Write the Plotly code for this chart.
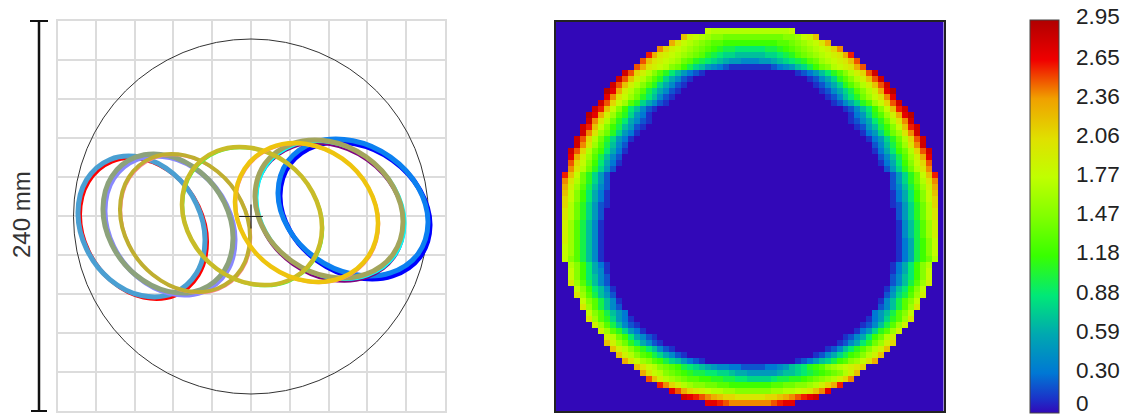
import plotly.graph_objects as go

W, H = 1129, 416

# ---- left panel: scan outline rings, in the panel's own image units ----
PANEL_X = [58, 445]
PANEL_Y = [411, 21]
GRID_START_X = 57
GRID_STEP_X = 38.8
GRID_STEP_Y = 39.0
BOUNDARY_CENTER = (251, 216.5)
BOUNDARY_RADIUS = 177.5
CROSS_POINT = (251, 216.5)

BLUE_X = [430, 420, 392.5, 355, 317.5, 290, 280, 290, 317.5, 355, 392.5, 420]
BLUE_Y = [225.5, 190.1, 160.1, 143.7, 145.1, 164.1, 195.5, 230.9, 260.9, 277.3, 275.9, 256.9]
SKY_X = [428, 418, 390.5, 353, 315.5, 288, 278, 288, 315.5, 353, 390.5, 418]
SKY_Y = [222.5, 187.1, 157.1, 140.7, 142.1, 161.1, 192.5, 227.9, 257.9, 274.3, 272.9, 253.9]

PURPLE_X = [404, 394.1, 367, 330, 293, 265.9, 256, 265.9, 293, 330, 367, 394.1]
PURPLE_Y = [225, 189.4, 159.8, 144.2, 146.8, 166.8, 199, 234.6, 264.2, 279.8, 277.2, 257.2]
CYAN_X = [405, 395.1, 368, 331, 294, 266.9, 257, 266.9, 294, 331, 368, 395.1]
CYAN_Y = [223.5, 187.9, 158.3, 142.7, 145.3, 165.3, 197.5, 233.1, 262.7, 278.3, 275.7, 255.7]
OLIVE_X = [403, 393.1, 366, 329, 292, 264.9, 255, 264.9, 292, 329, 366, 393.1]
OLIVE_Y = [222, 186.4, 156.8, 141.2, 143.8, 163.8, 196, 231.6, 261.2, 276.8, 274.2, 254.2]

RED_X = [207, 198.5, 175.3, 143.5, 111.7, 88.5, 80, 88.5, 111.7, 143.5, 175.3, 198.5]
RED_Y = [242.5, 206.1, 175.7, 159.5, 161.7, 181.9, 214.5, 250.9, 281.3, 297.5, 295.3, 275.1]
STEEL_X = [205, 196.5, 173.3, 141.5, 109.7, 86.5, 78, 86.5, 109.7, 141.5, 173.3, 196.5]
STEEL_Y = [240.5, 204.1, 173.7, 157.5, 159.7, 179.9, 212.5, 248.9, 279.3, 295.5, 293.3, 273.1]

PERI_X = [235, 226.3, 202.5, 170, 137.5, 113.7, 105, 113.7, 137.5, 170, 202.5, 226.3]
PERI_Y = [240.5, 204.5, 174.2, 157.6, 159.2, 178.5, 210.5, 246.5, 276.8, 293.4, 291.8, 272.5]
SAGE_X = [233, 224.3, 200.5, 168, 135.5, 111.7, 103, 111.7, 135.5, 168, 200.5, 224.3]
SAGE_Y = [238.5, 202.5, 172.2, 155.6, 157.2, 176.5, 208.5, 244.5, 274.8, 291.4, 289.8, 270.5]

PINK_X = [251, 242.3, 218.5, 186, 153.5, 129.7, 121, 129.7, 153.5, 186, 218.5, 242.3]
PINK_Y = [238, 202.3, 172.5, 156.4, 158.5, 178.3, 210, 245.7, 275.5, 291.6, 289.5, 269.9]
MUSTARD_X = [250, 241.3, 217.5, 185, 152.5, 128.7, 120, 128.7, 152.5, 185, 217.5, 241.3]
MUSTARD_Y = [237, 201.3, 171.5, 155.4, 157.5, 177.3, 209, 244.7, 274.5, 290.6, 288.5, 268.9]

GREEN_X = [323, 313.6, 288, 253, 218, 192.4, 183, 192.4, 218, 253, 288, 313.6]
GREEN_Y = [229, 193.4, 164, 149, 152, 172.6, 205, 240.6, 270, 285, 282, 261.4]
GOLD_X = [322, 312.6, 287, 252, 217, 191.4, 182, 191.4, 217, 252, 287, 312.6]
GOLD_Y = [228, 192.4, 163, 148, 151, 171.6, 204, 239.6, 269, 284, 281, 260.4]

ROSE_X = [379, 369.4, 343.3, 307.5, 271.7, 245.6, 236, 245.6, 271.7, 307.5, 343.3, 369.4]
ROSE_Y = [224.5, 188.7, 159.6, 144.9, 148.6, 169.7, 202.5, 238.3, 267.4, 282.1, 278.4, 257.3]
YELLOW_X = [378, 368.4, 342.3, 306.5, 270.7, 244.6, 235, 244.6, 270.7, 306.5, 342.3, 368.4]
YELLOW_Y = [223.5, 187.7, 158.6, 143.9, 147.6, 168.7, 201.5, 237.3, 266.4, 281.1, 277.4, 256.3]

# ---- right panel: deviation map, 65 x 65, read row by row ----
# each row: first column, values from there, last column, values ending there
# one character per cell, in tenths: 1-9, A = 1.0, B = 1.1 ... T = 2.9
LEVEL_CHARS = "0123456789ABCDEFGHIJKLMNOPQRST"
HEAT_SIZE = 65
HEAT_ROWS = [
    (1, 25, "IHHHHHHH", 39, "HHHHHHI"),
    (2, 21, "MJIHGFFEEEEE", 43, "EEEEEFFGIJM"),
    (3, 19, "NKIHGFEDDCCCCC", 45, "CCCCDDEFGHIKN"),
    (4, 17, "OLJIHGFEDCBAA999", 47, "99AABCDEFGHIJLO"),
    (5, 15, "QNKJIHGFEDBA988777", 49, "77889ABDEFGHIJKNQ"),
    (6, 14, "PMKJIHGEDBA98765544", 50, "4556789ABDEGHIJKMP"),
    (7, 13, "PNKJIHFECA8754321111", 51, "111234578ACEFHIJKNP"),
    (8, 11, "SPLJHFDB975321", 53, "123579BDFHJLPS"),
    (9, 10, "SPMJHFDB86421", 54, "12468BDFHJMPS"),
    (10, 9, "SPMJHFDB86421", 55, "12468BDFHJMPS"),
    (11, 8, "TRNJHFDA86421", 56, "12468ADFHJNRT"),
    (12, 8, "ROKIGEB97421", 56, "12479BEGIKOR"),
    (13, 7, "SPLIGDB86421", 57, "12468BDGILPS"),
    (14, 6, "SQMIFC97421", 58, "12479CFIMQS"),
    (15, 5, "TRNJGDB8531", 59, "1358BDGJNRT"),
    (16, 5, "SOKHEB96421", 59, "12469BEHKOS"),
    (17, 4, "SQMIFCA7521", 60, "1257ACFIMQS"),
    (18, 4, "SOKGEB8531", 60, "1358BEGKOS"),
    (19, 3, "SPLHEB8531", 61, "1358BEHLPS"),
    (20, 3, "SOKGDA742", 61, "247ADGKOS"),
    (21, 2, "SPLHEC9631", 62, "1369CEHLPS"),
    (22, 2, "RNJGDA742", 62, "247ADGJNR"),
    (23, 2, "PLIFC9631", 62, "1369CFILP"),
    (24, 2, "OKHEB852", 62, "258BEHKO"),
    (25, 1, "QMIEB852", 63, "258BEIMQ"),
    (26, 1, "OKHEB852", 63, "258BEHKO"),
    (27, 1, "NJGDA742", 63, "247ADGJN"),
    (28, 1, "MIFC9631", 63, "1369CFIM"),
    (29, 1, "LIFC9631", 63, "1369CFIL"),
    (30, 1, "LHEB8521", 63, "1258BEHL"),
    (31, 1, "KHEB852", 63, "258BEHK"),
    (32, 1, "KHEB852", 63, "258BEHK"),
    (33, 1, "JGDA741", 63, "147ADGJ"),
    (34, 1, "JGDA741", 63, "147ADGJ"),
    (35, 1, "JGDA741", 63, "147ADGJ"),
    (36, 1, "JGDA741", 63, "136ACFI"),
    (37, 1, "IGDA741", 63, "136ACFI"),
    (38, 1, "IGDA741", 63, "136ACFI"),
    (39, 1, "IFDA741", 63, "136ACEH"),
    (40, 2, "HFC9631", 62, "1369CFH"),
    (41, 2, "IFC9641", 62, "1369CFI"),
    (42, 2, "IFC9742", 62, "2479CFI"),
    (43, 2, "KGDA742", 62, "247ADGJ"),
    (44, 3, "IFC9741", 61, "1479CFI"),
    (45, 3, "KGDA752", 61, "258ADGJ"),
    (46, 4, "IFDA741", 60, "147ADFI"),
    (47, 4, "KGDA742", 60, "247ADGK"),
    (48, 5, "IFDA753", 59, "357ADFI"),
    (49, 5, "KGDB8531", 59, "1358BDGK"),
    (50, 6, "JGDA7421", 58, "1247ADGJ"),
    (51, 7, "JGDB8531", 57, "1358BDGJ"),
    (52, 8, "JHEC96421", 56, "12469CEHJ"),
    (53, 8, "MJGEB96421", 56, "12469BEGJL"),
    (54, 9, "MJHFDB97421", 55, "12479BDFHJM"),
    (55, 10, "MJHFDCA86421", 54, "12468ACDFHJM"),
    (56, 11, "NKIGFDCA875321", 53, "123578ACDFGIKN"),
    (57, 13, "MKIHFEDCA98765443322", 51, "223345789BCDFGHIJKL"),
    (58, 14, "NKIHFEDCBAA99887665", 50, "555567789ABCDEFHJM"),
    (59, 15, "PMJHGFEDDCCBBAA998", 49, "8889AABBCDEFGHJLO"),
    (60, 17, "QOLJHGFFEEDDCCCC", 47, "CCCDDEEFFGHJLNQ"),
    (61, 19, "RPNLKJIHHGGFFF", 45, "FFFGGHHIJKMOR"),
    (62, 21, "SRQPONMLLKKK", 43, "KKLLMNOPQRS"),
    (63, 25, "RRQPOOOO", 39, "OOOPQRR"),
]

SCALE_MAX = 2.95
SCALE_VALUES = [0, 0.1, 0.3, 0.59, 0.88, 1.18, 1.47, 1.77, 2.06, 2.36, 2.65, 2.95]
SCALE_COLORS = ["#3208b8", "#1c30c8", "#0078d4", "#00a8b0", "#00e878", "#38ff00",
                "#80ff00", "#c0ff00", "#e0e000", "#f0a000", "#f00000", "#b00000"]
BAR_LABELS = ["2.95", "2.65", "2.36", "2.06", "1.77", "1.47", "1.18", "0.88", "0.59", "0.30", "0"]
BAR_LABEL_PX = [17, 58, 97, 136, 175, 214, 253, 292, 331, 370, 403]

RINGS = [
    (BLUE_X, BLUE_Y, "#0000ff", 5),
    (SKY_X, SKY_Y, "#0c80f0", 5),
    (PURPLE_X, PURPLE_Y, "#800080", 3.5),
    (CYAN_X, CYAN_Y, "#00ffff", 3),
    (OLIVE_X, OLIVE_Y, "#a3a55c", 5),
    (RED_X, RED_Y, "#ff0000", 4),
    (STEEL_X, STEEL_Y, "#4a9fd2", 5),
    (PERI_X, PERI_Y, "#8888ff", 5),
    (SAGE_X, SAGE_Y, "#8ca27c", 5),
    (PINK_X, PINK_Y, "#ff8090", 2.5),
    (MUSTARD_X, MUSTARD_Y, "#bfae30", 4),
    (GREEN_X, GREEN_Y, "#40ff40", 2.5),
    (GOLD_X, GOLD_Y, "#c8bc28", 4.5),
    (ROSE_X, ROSE_Y, "#ff8090", 2.5),
    (YELLOW_X, YELLOW_Y, "#eec40e", 4.5),
]


def px(x):
    return x / W


def py(y):
    return (H - y) / H


z = [[0.0] * HEAT_SIZE for _ in range(HEAT_SIZE)]
for row, start, left, end, right in HEAT_ROWS:
    for i, ch in enumerate(left):
        z[row][start + i] = LEVEL_CHARS.index(ch) / 10
    for i, ch in enumerate(reversed(right)):
        z[row][end - i] = LEVEL_CHARS.index(ch) / 10

fig = go.Figure()

for xs, ys, color, width in RINGS:
    fig.add_trace(go.Scatter(
        x=xs + xs[:1], y=ys + ys[:1], mode="lines",
        line=dict(color=color, width=width, shape="spline", smoothing=1.0),
        hoverinfo="skip", showlegend=False, xaxis="x", yaxis="y"))

fig.add_trace(go.Scatter(
    x=[CROSS_POINT[0]], y=[CROSS_POINT[1]], mode="markers",
    marker=dict(symbol="cross-thin", size=17, line=dict(color="#222222", width=1.2)),
    hoverinfo="skip", showlegend=False, xaxis="x", yaxis="y"))

colorscale = [[v / SCALE_MAX, c] for v, c in zip(SCALE_VALUES, SCALE_COLORS)]
fig.add_trace(go.Heatmap(
    z=z, xaxis="x2", yaxis="y2", zmin=0, zmax=SCALE_MAX, colorscale=colorscale,
    zsmooth=False, hoverinfo="skip",
    colorbar=dict(
        x=px(1030), xanchor="left", xpad=0,
        y=py(20), yanchor="top", ypad=0,
        thicknessmode="pixels", thickness=29,
        lenmode="pixels", len=393,
        outlinecolor="#444444", outlinewidth=1,
        showticklabels=False, ticks="")))

grid = dict(showgrid=True, gridcolor="#dcdcdc", gridwidth=1.5, zeroline=False,
            showticklabels=False, ticks="", showline=True, linecolor="#dcdcdc",
            linewidth=1.5, mirror=True)
frame = dict(showgrid=False, zeroline=False, showticklabels=False, ticks="",
             showline=True, linecolor="#222222", linewidth=1.5, mirror=True)

shapes = [dict(type="circle", xref="x", yref="y", layer="between",
               x0=BOUNDARY_CENTER[0] - BOUNDARY_RADIUS, x1=BOUNDARY_CENTER[0] + BOUNDARY_RADIUS,
               y0=BOUNDARY_CENTER[1] - BOUNDARY_RADIUS, y1=BOUNDARY_CENTER[1] + BOUNDARY_RADIUS,
               line=dict(color="#333333", width=1))]
for x0, y0, x1, y1, w in [(39, 21, 39, 411, 2.5), (30, 21, 48, 21, 2), (31, 411, 47, 411, 2)]:
    shapes.append(dict(type="line", xref="paper", yref="paper",
                       x0=px(x0), y0=py(y0), x1=px(x1), y1=py(y1),
                       line=dict(color="#111111", width=w)))

annotations = [dict(text="240 mm", x=px(21), y=py(215), xref="paper", yref="paper",
                    textangle=-90, showarrow=False, xanchor="center", yanchor="middle",
                    font=dict(family="Liberation Sans", size=24, color="#333333"))]
for label, y in zip(BAR_LABELS, BAR_LABEL_PX):
    annotations.append(dict(text=label, x=px(1075), y=py(y), xref="paper", yref="paper",
                            showarrow=False, xanchor="left", yanchor="middle", xshift=-1,
                            font=dict(family="Liberation Sans", size=22.5, color="#222222")))

fig.update_layout(
    width=W, height=H, margin=dict(l=0, r=0, t=0, b=0), autosize=False,
    paper_bgcolor="white", plot_bgcolor="white", showlegend=False,
    xaxis=dict(domain=[px(58), px(445)], range=PANEL_X, tick0=GRID_START_X, dtick=GRID_STEP_X, **grid),
    yaxis=dict(domain=[py(411), py(21)], range=PANEL_Y, tick0=PANEL_Y[1], dtick=GRID_STEP_Y, **grid),
    xaxis2=dict(domain=[px(556), px(943.5)], range=[-0.5, HEAT_SIZE - 0.5], anchor="y2", **frame),
    yaxis2=dict(domain=[py(411), py(21.5)], range=[HEAT_SIZE - 0.5, -0.5], anchor="x2", **frame),
    shapes=shapes, annotations=annotations)

fig.write_html("out.html", config=dict(displayModeBar=False),
               post_script="document.body.style.margin='0';document.body.style.overflow='hidden';")
